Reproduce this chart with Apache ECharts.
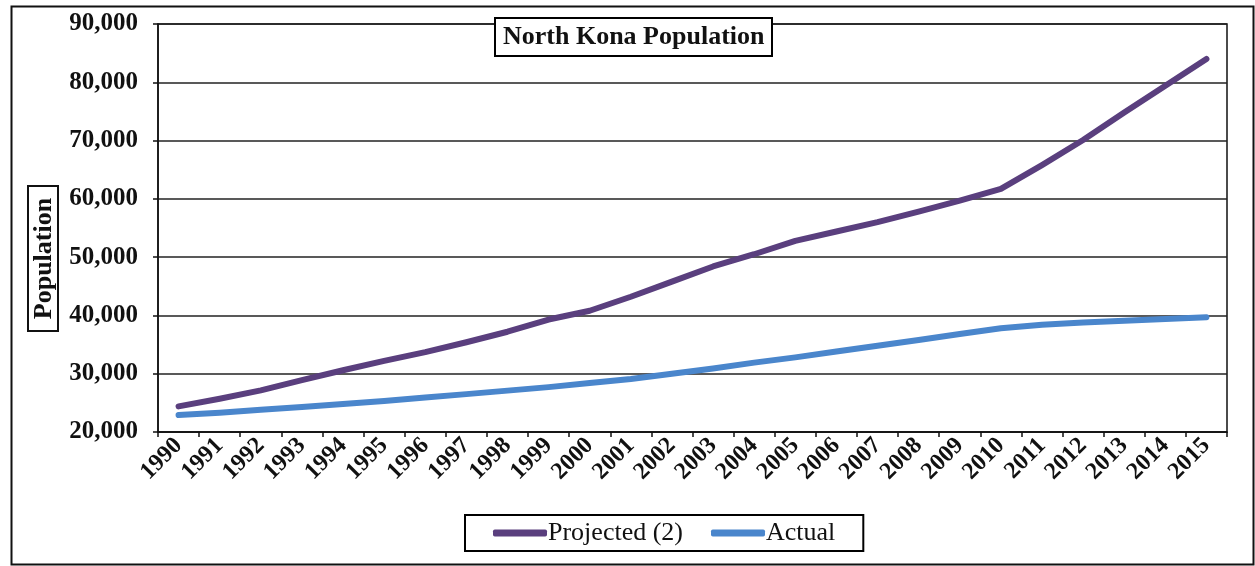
<!DOCTYPE html>
<html>
<head>
<meta charset="utf-8">
<script src="https://cdn.jsdelivr.net/npm/echarts@6/dist/echarts.min.js"></script>
<style>
  html, body { margin: 0; padding: 0; background: #ffffff; }
  #chart { width: 1255px; height: 566px; }
</style>
</head>
<body>
<div id="chart"></div>
<script>
// North Kona population, 1990-2015
const years = ['1990','1991','1992','1993','1994','1995','1996','1997','1998','1999',
  '2000','2001','2002','2003','2004','2005','2006','2007','2008','2009',
  '2010','2011','2012','2013','2014','2015'];
const projected = [24400, 25700, 27150, 28900, 30600, 32200, 33700, 35400, 37200, 39300,
  40800, 43200, 45800, 48400, 50500, 52800, 54400, 56000, 57800, 59700,
  61700, 65800, 70100, 74800, 79400, 84000];
const actual = [22900, 23300, 23800, 24300, 24800, 25300, 25900, 26500, 27100, 27700,
  28400, 29100, 30000, 30900, 31900, 32800, 33800, 34800, 35800, 36800,
  37800, 38400, 38800, 39100, 39400, 39700];
const seriesNames = ['Projected (2)', 'Actual'];
const yTicks = { min: 20000, max: 90000, step: 10000 };

const serif = '"Liberation Serif", "DejaVu Serif", serif';
const purple = '#5a3f7e';
const blue = '#4a86cc';

const chart = echarts.init(document.getElementById('chart'), null, { renderer: 'canvas' });

chart.setOption({
  backgroundColor: '#ffffff',
  animation: false,
  title: {
    text: 'North Kona Population',
    left: 495,
    top: 18,
    padding: [6, 8, 6, 8],
    borderColor: '#000',
    borderWidth: 2,
    backgroundColor: '#ffffff',
    textStyle: { fontFamily: serif, fontWeight: 'bold', fontSize: 26, color: '#111' }
  },
  legend: {
    data: seriesNames,
    left: 465,
    top: 515,
    padding: [5, 28, 5, 28],
    borderColor: '#000',
    borderWidth: 2,
    backgroundColor: '#ffffff',
    itemWidth: 54,
    itemHeight: 7,
    itemGap: 28,
    icon: 'roundRect',
    textStyle: { fontFamily: serif, fontSize: 26, color: '#111', padding: [0, 0, 0, -4] }
  },
  grid: {
    left: 158,
    right: 28,
    top: 24,
    bottom: 134,
    show: true,
    borderColor: '#111',
    borderWidth: 1.5
  },
  xAxis: {
    type: 'category',
    data: years,
    boundaryGap: true,
    axisLine: { lineStyle: { color: '#111', width: 1.5 } },
    axisTick: { show: true, length: 5, lineStyle: { color: '#111', width: 1.5 } },
    axisLabel: {
      interval: 0,
      rotate: 45,
      margin: 10,
      fontFamily: serif,
      fontWeight: 'bold',
      fontSize: 24,
      color: '#111'
    }
  },
  yAxis: {
    type: 'value',
    min: yTicks.min,
    max: yTicks.max,
    interval: yTicks.step,
    axisLine: { show: true, lineStyle: { color: '#111', width: 1.5 } },
    axisTick: { show: true, length: 5, lineStyle: { color: '#111', width: 1.5 } },
    splitLine: { lineStyle: { color: '#222', width: 1.5 } },
    axisLabel: {
      margin: 20,
      fontFamily: serif,
      fontWeight: 'bold',
      fontSize: 25,
      color: '#111',
      formatter: v => v.toLocaleString('en-US')
    }
  },
  series: [
    {
      name: seriesNames[0],
      type: 'line',
      data: projected,
      symbol: 'none',
      smooth: false,
      lineStyle: { color: purple, width: 6, cap: 'round', join: 'round' },
      itemStyle: { color: purple },
      z: 3
    },
    {
      name: seriesNames[1],
      type: 'line',
      data: actual,
      symbol: 'none',
      smooth: false,
      lineStyle: { color: blue, width: 6, cap: 'round', join: 'round' },
      itemStyle: { color: blue },
      z: 2
    }
  ],
  graphic: [
    {
      type: 'rect',
      left: 9,
      top: 4,
      shape: { width: 1242, height: 558 },
      style: { fill: 'none', stroke: '#111', lineWidth: 2 },
      silent: true,
      z: -1
    },
    {
      type: 'group',
      left: 27,
      top: 185,
      children: [
        {
          type: 'rect',
          shape: { x: 0, y: 0, width: 30, height: 145 },
          style: { fill: '#ffffff', stroke: '#111', lineWidth: 2 }
        },
        {
          type: 'text',
          x: 16,
          y: 72.5,
          rotation: Math.PI / 2,
          style: {
            text: 'Population',
            fontFamily: serif,
            fontWeight: 'bold',
            fontSize: 26,
            fill: '#111',
            align: 'center',
            verticalAlign: 'middle'
          }
        }
      ]
    }
  ]
});
</script>
</body>
</html>
